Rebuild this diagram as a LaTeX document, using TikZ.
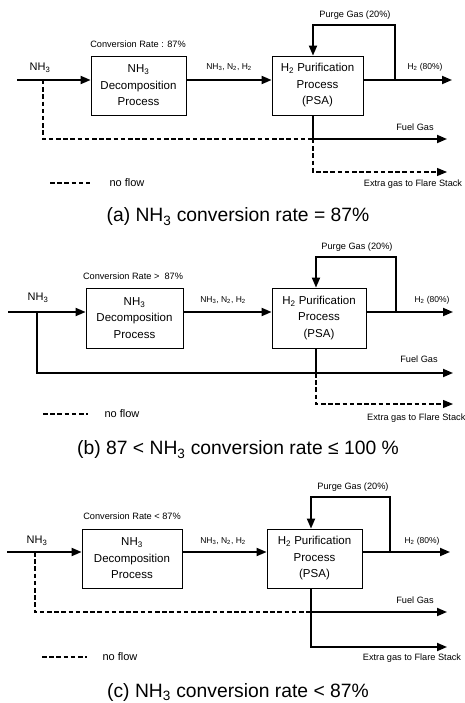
\documentclass[tikz,border=0pt]{standalone}
\usepackage{fontspec}
\setmainfont{Liberation Sans}
\usetikzlibrary{arrows.meta}
\tikzstyle{proc}=[draw, line width=0.8pt, minimum height=59pt, inner sep=0pt, align=center, font=\fontsize{11.5}{16.5}\selectfont]
\tikzstyle{flow}=[line width=1.8pt, -{Triangle[length=10pt,width=8pt]}]
\tikzstyle{noflow}=[line width=1.1pt, dash pattern=on 4.5pt off 2.7pt]
\tikzstyle{lbl}=[inner sep=0pt, font=\fontsize{9.2}{10}\selectfont]
\tikzstyle{smalllbl}=[inner sep=0pt, font=\fontsize{8.5}{10}\selectfont]
\tikzstyle{biglbl}=[inner sep=0pt, font=\fontsize{11}{12}\selectfont]
\tikzstyle{caption}=[inner sep=0pt, font=\fontsize{19.3}{21}\selectfont]
\newcommand{\nhthree}{NH\textsubscript{3}}

\begin{document}
\begin{tikzpicture}[x=1pt,y=-1pt]
    \useasboundingbox (0,0) rectangle (465,703);

    % (a) conversion rate = 87%
    \coordinate (a-in) at (17,80);
    \coordinate (a-tap) at (395,80);
    \coordinate (a-out) at (452,80);
    \coordinate (a-top) at (313,25);
    \coordinate (a-split) at (43,139);
    \coordinate (a-fuel) at (313,139);
    \coordinate (a-fuelend) at (447,139);
    \coordinate (a-flare) at (313,172);
    \coordinate (a-flareend) at (447,172);
    \coordinate (a-leg1) at (50,183);
    \coordinate (a-leg2) at (90,183);
    \node[proc, minimum width=95pt] (a-dec) at (138.5,85.5) {\nhthree\\Decomposition\\Process};
    \node[proc, minimum width=91pt] (a-psa) at (317.5,85.5) {H\textsubscript{2} Purification\\Process\\(PSA)};
    \node[biglbl] (a-nh) at (40,68) {\nhthree};
    \node[lbl] (a-rate) at (138,44) {Conversion Rate : 87\%};
    \node[smalllbl] (a-mix) at (229,67) {\nhthree, N\textsubscript{2}, H\textsubscript{2}};
    \node[smalllbl] (a-h2) at (425,67) {H\textsubscript{2} (80\%)};
    \node[lbl] (a-purge) at (355,15) {Purge Gas (20\%)};
    \node[lbl] (a-fg) at (415,127) {Fuel Gas};
    \node[lbl] (a-xg) at (413,184) {Extra gas to Flare Stack};
    \node[biglbl] (a-nf) at (127,183) {no flow};
    \node[caption] (a-cap) at (238,217) {(a) \nhthree{} conversion rate = 87\%};
    \draw[flow] (a-in) -- (a-in -| a-dec.west);
    \draw[flow] (a-dec.east |- a-in) -- (a-psa.west |- a-in);
    \draw[flow] (a-psa.east |- a-in) -- (a-out);
    \draw[flow] (a-tap) -- (a-tap |- a-top) -- (a-top) -- (a-top |- a-psa.north);
    \draw[flow] (a-fuel |- a-psa.south) -- (a-fuel) -- (a-fuelend);
    \draw[noflow] (a-split |- a-in) -- (a-split) -- (a-fuel);
    \draw[noflow, -{Triangle[length=10pt,width=8pt]}] (a-fuel) -- (a-flare) -- (a-flareend);
    \draw[noflow] (a-leg1) -- (a-leg2);

    % (b) 87 < conversion rate <= 100
    \coordinate (b-in) at (8,312);
    \coordinate (b-tap) at (396,312);
    \coordinate (b-out) at (453,312);
    \coordinate (b-top) at (316,257);
    \coordinate (b-split) at (37,373);
    \coordinate (b-fuel) at (316,373);
    \coordinate (b-fuelend) at (453,373);
    \coordinate (b-flare) at (316,404);
    \coordinate (b-flareend) at (453,404);
    \coordinate (b-leg1) at (43,414);
    \coordinate (b-leg2) at (88,414);
    \node[proc, minimum width=97pt, minimum height=60pt] (b-dec) at (134.5,318) {\nhthree\\Decomposition\\Process};
    \node[proc, minimum width=94pt, minimum height=60pt] (b-psa) at (319,318) {H\textsubscript{2} Purification\\Process\\(PSA)};
    \node[biglbl] (b-nh) at (38,298) {\nhthree};
    \node[lbl] (b-rate) at (133,276) {Conversion Rate >\ \ 87\%};
    \node[smalllbl] (b-mix) at (223,300) {\nhthree, N\textsubscript{2}, H\textsubscript{2}};
    \node[smalllbl] (b-h2) at (432,300) {H\textsubscript{2} (80\%)};
    \node[lbl] (b-purge) at (357,247) {Purge Gas (20\%)};
    \node[lbl] (b-fg) at (419,359) {Fuel Gas};
    \node[lbl, anchor=west] (b-xg) at (367,418) {Extra gas to Flare Stack};
    \node[biglbl] (b-nf) at (122,414) {no flow};
    \node[caption] (b-cap) at (238,450) {(b) 87 < \nhthree{} conversion rate ≤ 100 \%};
    \draw[flow] (b-in) -- (b-in -| b-dec.west);
    \draw[flow] (b-dec.east |- b-in) -- (b-psa.west |- b-in);
    \draw[flow] (b-psa.east |- b-in) -- (b-out);
    \draw[flow] (b-tap) -- (b-tap |- b-top) -- (b-top) -- (b-top |- b-psa.north);
    \draw[flow] (b-split |- b-in) -- (b-split) -- (b-fuelend);
    \draw[line width=1.8pt] (b-fuel |- b-psa.south) -- (b-fuel);
    \draw[noflow, -{Triangle[length=10pt,width=8pt]}] (b-fuel) -- (b-flare) -- (b-flareend);
    \draw[noflow] (b-leg1) -- (b-leg2);

    % (c) conversion rate < 87%
    \coordinate (c-in) at (7,552);
    \coordinate (c-tap) at (390,552);
    \coordinate (c-out) at (450,552);
    \coordinate (c-top) at (311,497);
    \coordinate (c-split) at (35,612);
    \coordinate (c-fuel) at (311,612);
    \coordinate (c-fuelend) at (447,612);
    \coordinate (c-flare) at (311,647);
    \coordinate (c-flareend) at (447,647);
    \coordinate (c-leg1) at (42,657);
    \coordinate (c-leg2) at (87,657);
    \node[proc, minimum width=100pt] (c-dec) at (132,558.5) {\nhthree\\Decomposition\\Process};
    \node[proc, minimum width=95pt] (c-psa) at (314.5,558.5) {H\textsubscript{2} Purification\\Process\\(PSA)};
    \node[biglbl] (c-nh) at (37,541) {\nhthree};
    \node[lbl] (c-rate) at (132,516) {Conversion Rate < 87\%};
    \node[smalllbl] (c-mix) at (223,541) {\nhthree, N\textsubscript{2}, H\textsubscript{2}};
    \node[smalllbl] (c-h2) at (422,541) {H\textsubscript{2} (80\%)};
    \node[lbl] (c-purge) at (353,487) {Purge Gas (20\%)};
    \node[lbl] (c-fg) at (415,600) {Fuel Gas};
    \node[lbl] (c-xg) at (412,658) {Extra gas to Flare Stack};
    \node[biglbl] (c-nf) at (120,657) {no flow};
    \node[caption] (c-cap) at (238,692) {(c) \nhthree{} conversion rate < 87\%};
    \draw[flow] (c-in) -- (c-in -| c-dec.west);
    \draw[flow] (c-dec.east |- c-in) -- (c-psa.west |- c-in);
    \draw[flow] (c-psa.east |- c-in) -- (c-out);
    \draw[flow] (c-tap) -- (c-tap |- c-top) -- (c-top) -- (c-top |- c-psa.north);
    \draw[noflow] (c-split |- c-in) -- (c-split) -- (c-fuel);
    \draw[flow] (c-fuel) -- (c-fuelend);
    \draw[flow] (c-fuel |- c-psa.south) -- (c-flare) -- (c-flareend);
    \draw[noflow] (c-leg1) -- (c-leg2);
\end{tikzpicture}
\end{document}
